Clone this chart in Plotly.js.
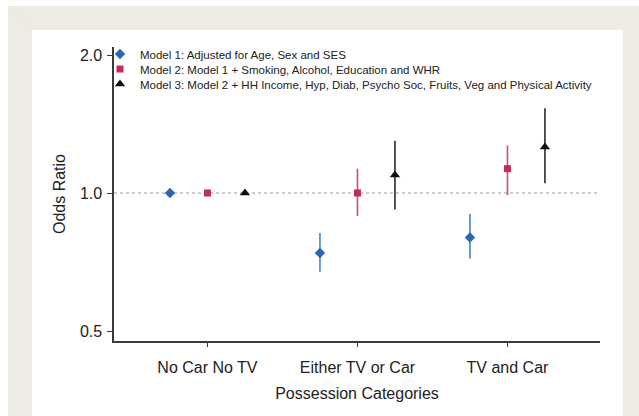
<!DOCTYPE html>
<html>
<head>
<meta charset="utf-8">
<script src="https://cdn.plot.ly/plotly-3.0.1.min.js"></script>
<style>html,body{margin:0;padding:0;background:#fff;}#chart{width:639px;height:416px;}</style>
</head>
<body>
<div id="chart"></div>
<script>
// ---- data ----
const categories = ["No Car No TV", "Either TV or Car", "TV and Car"];
const modelNames = [
  "Model 1: Adjusted for Age, Sex and SES",
  "Model 2: Model 1 + Smoking, Alcohol, Education and WHR",
  "Model 3: Model 2 + HH Income, Hyp, Diab, Psycho Soc, Fruits, Veg and Physical Activity"
];
const model1OR    = [1.00, 0.74, 0.80];
const model1Lower = [1.00, 0.673, 0.72];
const model1Upper = [1.00, 0.818, 0.90];
const model2OR    = [1.00, 1.00, 1.13];
const model2Lower = [1.00, 0.891, 0.99];
const model2Upper = [1.00, 1.13, 1.27];
const model3OR    = [1.00, 1.095, 1.26];
const model3Lower = [1.00, 0.921, 1.05];
const model3Upper = [1.00, 1.30, 1.53];
const yTickVals = [0.5, 1.0, 2.0];
const yTickText = ["0.5", "1.0", "2.0"];
const referenceOR = 1.0;

// ---- layout geometry (pixels) ----
const W = 639, H = 416;
const L = 114, R = 600, T = 47, B = 341;
const pw = R - L, ph = B - T;
const px = v => (v - L) / pw;
const py = v => (B - v) / ph;

const styles = [
  {symbol: "diamond", size: 8, color: "#2b66b1", err: "#4a82c6"},
  {symbol: "square", size: 7, color: "#c42a5e", err: "#cf4a78"},
  {symbol: "triangle-up", size: 9, color: "#111111", err: "#2a2a2a"}
];
const series = [
  [model1OR, model1Lower, model1Upper],
  [model2OR, model2Lower, model2Upper],
  [model3OR, model3Lower, model3Upper]
];
const legendIds = ["legend", "legend2", "legend3"];
const legendRowY = [54, 69, 84];

const traces = series.map((s, m) => ({
  type: "scatter",
  mode: "markers",
  name: modelNames[m],
  legend: legendIds[m],
  x: categories,
  y: s[0],
  offsetgroup: String(m),
  marker: {symbol: styles[m].symbol, size: styles[m].size, color: styles[m].color},
  error_y: {
    type: "data", symmetric: false,
    array: s[2].map((u, i) => u - s[0][i]),
    arrayminus: s[1].map((l, i) => s[0][i] - l),
    color: styles[m].err, thickness: 1.6, width: 0
  },
  cliponaxis: false
}));

const log10 = Math.log10;
const layout = {
  width: W, height: H,
  margin: {l: L, r: W - R, t: T, b: H - B, pad: 0},
  paper_bgcolor: "#ffffff",
  plot_bgcolor: "rgba(0,0,0,0)",
  font: {family: "Liberation Sans, Arial, sans-serif", size: 16, color: "#222222"},
  scattermode: "group",
  scattergap: 0.25,
  showlegend: true,
  xaxis: {
    type: "category",
    range: [-0.623, 2.617],
    showline: true, linecolor: "#3a3a3a", linewidth: 1.6,
    ticks: "outside", ticklen: 4, tickwidth: 1, tickcolor: "#3a3a3a",
    ticklabelstandoff: 7,
    showgrid: false, zeroline: false,
    tickfont: {size: 16},
    title: {text: "Possession Categories", font: {size: 16}, standoff: 13}
  },
  yaxis: {
    type: "log",
    range: [log10(0.5) - (10/138)*log10(2), log10(2) + (8/138)*log10(2)],
    tickvals: yTickVals, ticktext: yTickText,
    showline: true, linecolor: "#3a3a3a", linewidth: 1.6,
    ticks: "outside", ticklen: 5, tickwidth: 1, tickcolor: "#3a3a3a",
    ticklabelstandoff: 2,
    showgrid: false, zeroline: false,
    tickfont: {size: 16},
    title: {text: "Odds Ratio", font: {size: 16}, standoff: 10}
  },
  shapes: [
    {type: "rect", xref: "paper", yref: "paper", layer: "below",
     x0: px(8), x1: px(W + 2), y0: py(H + 2), y1: py(6),
     fillcolor: "#eeece2", line: {width: 0}},
    {type: "rect", xref: "paper", yref: "paper", layer: "below",
     x0: px(32), x1: px(623), y0: py(H + 2), y1: py(30),
     fillcolor: "#ffffff", line: {width: 0}},
    {type: "line", xref: "paper", yref: "paper", layer: "below",
     x0: px(8), y0: py(6), x1: px(32), y1: py(30),
     line: {color: "#e6e4d8", width: 1}},
    {type: "line", xref: "paper", yref: "y", layer: "below",
     x0: 0, x1: 1, y0: referenceOR, y1: referenceOR,
     line: {color: "#9a9aa6", width: 1, dash: "dot"}}
  ]
};
legendIds.forEach((id, m) => {
  layout[id] = {
    x: px(100), xanchor: "left", y: py(legendRowY[m]), yanchor: "middle",
    bgcolor: "rgba(0,0,0,0)", borderwidth: 0,
    font: {size: 11.5, color: "#222222"},
    itemclick: false, itemdoubleclick: false
  };
});

Plotly.newPlot("chart", traces, layout, {displayModeBar: false, staticPlot: true});
</script>
</body>
</html>
